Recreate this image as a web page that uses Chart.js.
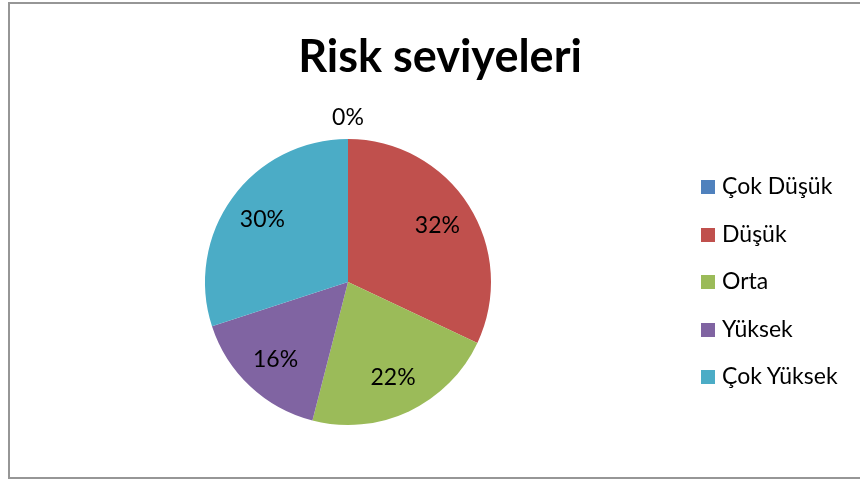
<!DOCTYPE html>
<html>
<head>
<meta charset="utf-8">
<script src="https://cdn.jsdelivr.net/npm/chart.js@4/dist/chart.umd.min.js"></script>
<style>
    html, body { margin: 0; padding: 0; background: #fff; }
    #wrap { position: relative; width: 860px; height: 480px; overflow: hidden; font-family: Lato, "Open Sans", sans-serif; }
    #frame { position: absolute; left: 8px; top: 2px; width: 880px; height: 477px; border: 2px solid #969696; box-sizing: border-box; }
    #title { position: absolute; left: 0; top: 27px; width: 880px; text-align: center; font-weight: bold; font-size: 45px; line-height: 56px; color: #000; }
    #legend { position: absolute; left: 701px; top: 170px; }
    .item { height: 47.5px; line-height: 30px; font-size: 23px; color: #000; white-space: nowrap; }
    .box { display: inline-block; width: 14px; height: 14px; margin-right: 7px; vertical-align: 0px; }
    canvas { position: absolute; left: 0; top: 0; }
</style>
</head>
<body>
<div id="wrap">
    <div id="frame"></div>
    <canvas id="pie" width="860" height="480"></canvas>
    <div id="title">Risk seviyeleri</div>
    <div id="legend"></div>
</div>
<script>
var categories = ["Çok Düşük", "Düşük", "Orta", "Yüksek", "Çok Yüksek"];
var shares = [0, 32, 22, 16, 30];
var colors = ["#4F81BD", "#C0504D", "#9BBB59", "#8064A2", "#4BACC6"];

// legend as plain html
var legend = document.getElementById("legend");
for (var i = 0; i < categories.length; i++) {
    var row = document.createElement("div");
    row.className = "item";
    row.innerHTML = '<span class="box" style="background:' + colors[i] + '"></span>' + categories[i];
    legend.appendChild(row);
}

var percentLabels = {
    id: "percentLabels",
    afterDatasetsDraw: function(chart) {
        var ctx = chart.ctx;
        var data = chart.data.datasets[0].data;
        var total = 0;
        for (var i = 0; i < data.length; i++) {
            total += data[i];
        }
        var arcs = chart.getDatasetMeta(0).data;
        ctx.save();
        ctx.font = "23px Lato, 'Open Sans', sans-serif";
        ctx.fillStyle = "#000";
        ctx.textAlign = "center";
        ctx.textBaseline = "middle";
        for (var j = 0; j < arcs.length; j++) {
            var p = arcs[j].getProps(["x", "y", "startAngle", "endAngle", "outerRadius"], true);
            var mid = (p.startAngle + p.endAngle) / 2;
            var r = data[j] === 0 ? p.outerRadius * 1.15 : p.outerRadius * 0.74;
            var text = Math.round(data[j] / total * 100) + "%";
            ctx.fillText(text, p.x + Math.cos(mid) * r, p.y + Math.sin(mid) * r);
        }
        ctx.restore();
    }
};

new Chart(document.getElementById("pie"), {
    type: "pie",
    data: {
        labels: categories,
        datasets: [{
            data: shares,
            backgroundColor: colors,
            borderWidth: 0
        }]
    },
    options: {
        responsive: false,
        animation: false,
        layout: { padding: { left: 205, right: 369, top: 139, bottom: 55 } },
        plugins: {
            legend: { display: false },
            tooltip: { enabled: false }
        }
    },
    plugins: [percentLabels]
});
</script>
</body>
</html>
